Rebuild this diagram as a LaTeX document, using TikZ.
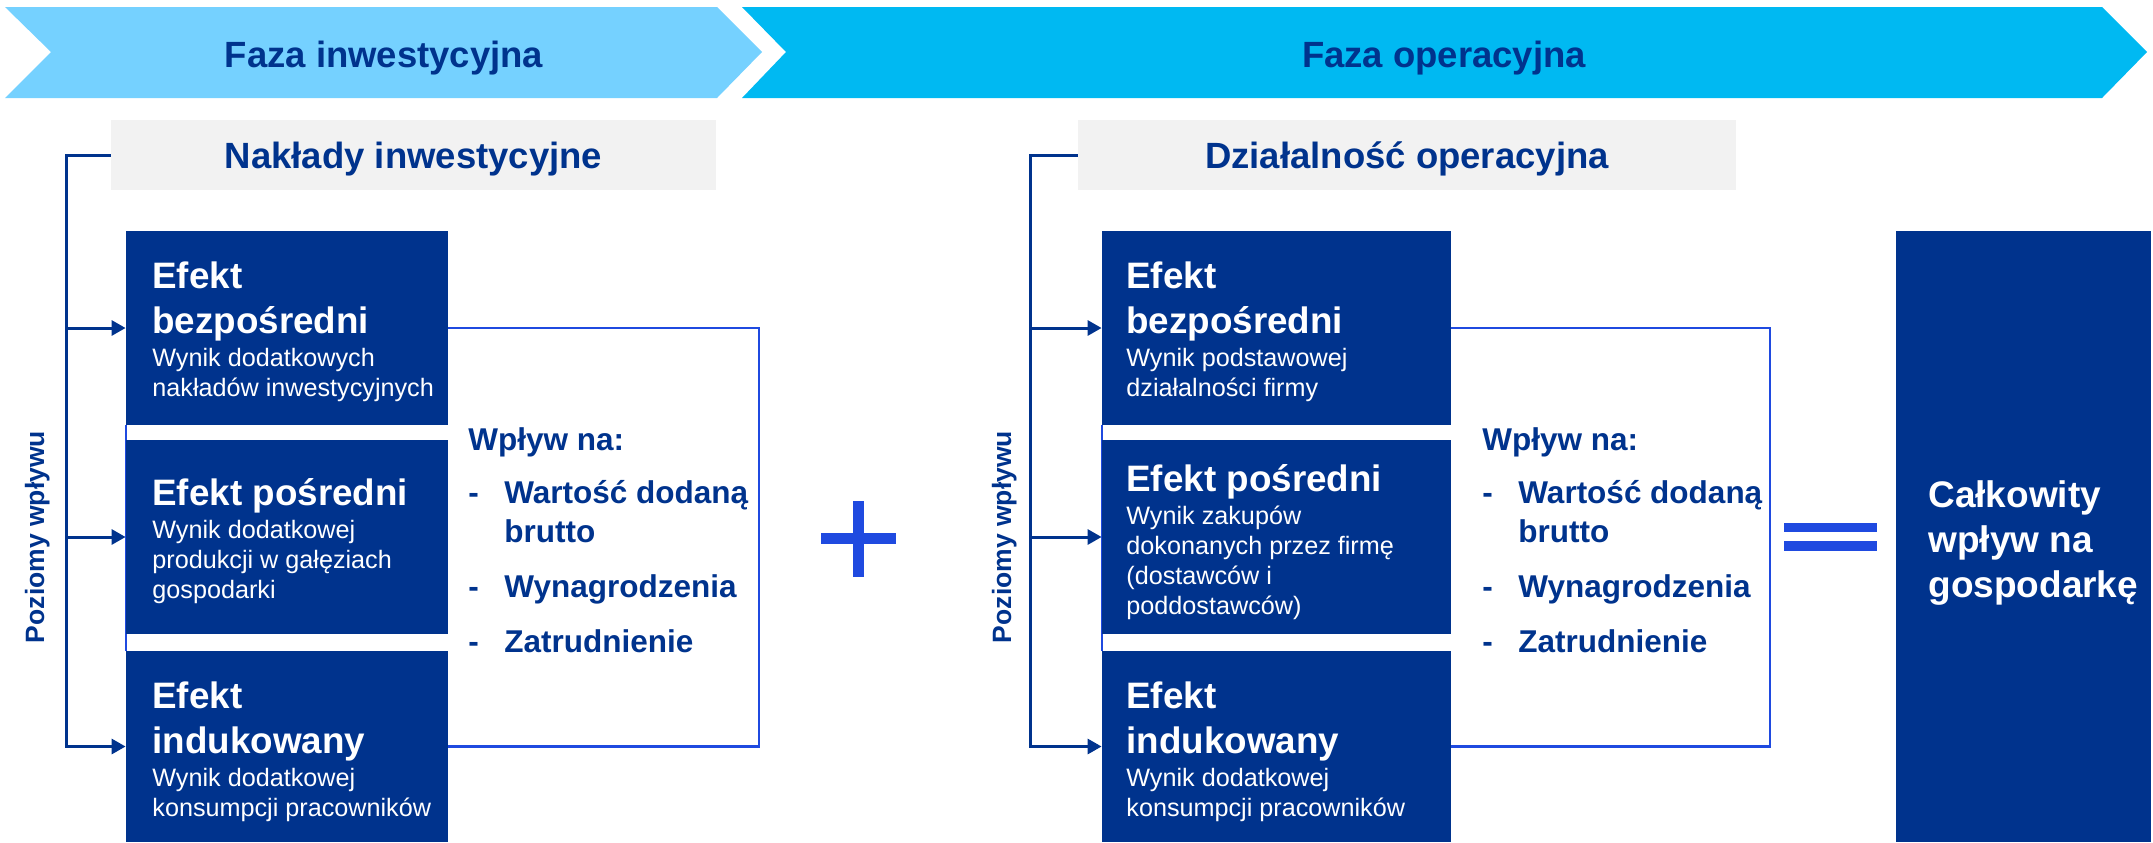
\documentclass[tikz,border=0pt]{standalone}
\usepackage{fontspec}
\setmainfont{Liberation Sans}
\usetikzlibrary{arrows.meta}

\definecolor{navy}{HTML}{00338D}
\definecolor{lightsky}{HTML}{75D1FF}
\definecolor{sky}{HTML}{00B9F2}
\definecolor{greybox}{HTML}{F2F2F2}
\definecolor{brightblue}{HTML}{1F4AE0}

\newcommand{\headfont}{\fontsize{18.25pt}{22pt}\selectfont\bfseries}
\newcommand{\efftitle}{\fontsize{18.4pt}{22.5pt}\selectfont\bfseries}
\newcommand{\effsub}{\fontsize{12.6pt}{15pt}\selectfont\mdseries}
\newcommand{\listfont}{\fontsize{15.75pt}{19.5pt}\selectfont\bfseries}
\newcommand{\efftext}[2]{\parbox[t]{200pt}{\raggedright\efftitle #1\par\vspace{1.5pt}\effsub #2\par}}
\newcommand{\wplyw}{\parbox[t]{170pt}{\raggedright\listfont Wpływ na:\\[7pt]
	\makebox[18pt][l]{-}Wartość dodaną\\
	\hspace*{18pt}brutto\\[8pt]
	\makebox[18pt][l]{-}Wynagrodzenia\\[8pt]
	\makebox[18pt][l]{-}Zatrudnienie}}

\begin{document}
\begin{tikzpicture}[x=0.5pt,y=-0.5pt,
	headtext/.style={anchor=base,inner sep=0,text=navy,font=\headfont},
	tagbox/.style={fill=greybox,minimum height=35pt,inner sep=0,text=navy,font=\headfont,text height=13pt,text depth=0pt},
	effbox/.style={fill=navy,inner sep=0},
	efflabel/.style={anchor=base west,inner sep=0,text=white},
	levellabel/.style={rotate=90,anchor=base,inner sep=0,text=navy,font=\fontsize{13.25pt}{16pt}\selectfont\bfseries},
	impactlist/.style={anchor=base west,inner sep=0,text=navy},
	lvline/.style={navy,line width=1.5pt},
	lvarrow/.style={lvline,-{Triangle[length=7pt,width=7.5pt]}},
	impactline/.style={brightblue,line width=1.4pt},
	gapline/.style={brightblue,line width=1pt}]
	\useasboundingbox (0,0) rectangle (2153,842);

	\fill[lightsky] (5,7) -- (717,7) -- (762,52) -- (717,98) -- (5,98) -- (51,52) -- cycle;
	\fill[sky] (742,7) -- (2102,7) -- (2147,52) -- (2102,98) -- (742,98) -- (786,52) -- cycle;
	\node[headtext] (fazainw) at (384,67) {Faza inwestycyjna};
	\node[headtext] (fazaop) at (1444,67) {Faza operacyjna};

	\node[tagbox,minimum width=302.5pt] (naklady) at (413.5,155) {Nakłady inwestycyjne};
	\node[tagbox,minimum width=329pt] (dzial) at (1407,155) {Działalność operacyjna};

	\draw[gapline] (126,425) -- (126,651);
	\draw[gapline] (1102,425) -- (1102,651);

	\node[effbox,minimum width=161pt,minimum height=97pt] (inv1) at (287,328) {};
	\node[effbox,minimum width=161pt,minimum height=97pt] (inv2) at (287,537) {};
	\node[effbox,minimum width=161pt,minimum height=95.5pt] (inv3) at (287,746.5) {};
	\node[effbox,minimum width=174.5pt,minimum height=97pt] (op1) at (1276.5,328) {};
	\node[effbox,minimum width=174.5pt,minimum height=97pt] (op2) at (1276.5,537) {};
	\node[effbox,minimum width=174.5pt,minimum height=95.5pt] (op3) at (1276.5,746.5) {};
	\node[effbox,minimum width=127.5pt,minimum height=305.5pt] (total) at (2023.5,536.5) {};

	\node[efflabel] (inv1txt) at (152,288) {\efftext{Efekt\\bezpośredni}{Wynik dodatkowych\\nakładów inwestycyjnych}};
	\node[efflabel] (inv2txt) at (152,505) {\efftext{Efekt pośredni}{Wynik dodatkowej\\produkcji w gałęziach\\gospodarki}};
	\node[efflabel] (inv3txt) at (152,708) {\efftext{Efekt\\indukowany}{Wynik dodatkowej\\konsumpcji pracowników}};
	\node[efflabel] (op1txt) at (1126,288) {\efftext{Efekt\\bezpośredni}{Wynik podstawowej\\działalności firmy}};
	\node[efflabel] (op2txt) at (1126,491) {\efftext{Efekt pośredni}{Wynik zakupów\\dokonanych przez firmę\\(dostawców i\\poddostawców)}};
	\node[efflabel] (op3txt) at (1126,708) {\efftext{Efekt\\indukowany}{Wynik dodatkowej\\konsumpcji pracowników}};
	\node[efflabel] (totaltxt) at (1928,507) {\parbox[t]{125pt}{\raggedright\fontsize{18.5pt}{22.5pt}\selectfont\bfseries Całkowity\\wpływ na\\gospodarkę}};

	\coordinate (ltrunk) at (66,746.5);
	\coordinate (rtrunk) at (1030,746.5);
	\draw[lvarrow] (naklady.west) -| (ltrunk) -- (inv3.west);
	\draw[lvarrow] (inv1.west -| ltrunk) -- (inv1.west);
	\draw[lvarrow] (inv2.west -| ltrunk) -- (inv2.west);
	\draw[lvarrow] (dzial.west) -| (rtrunk) -- (op3.west);
	\draw[lvarrow] (op1.west -| rtrunk) -- (op1.west);
	\draw[lvarrow] (op2.west -| rtrunk) -- (op2.west);
	\node[levellabel] (poz1) at (44,537) {Poziomy wpływu};
	\node[levellabel] (poz2) at (1011,537) {Poziomy wpływu};

	\coordinate (limp) at (759,0);
	\coordinate (rimp) at (1770,0);
	\draw[impactline] (inv1.east) -- (inv1.east -| limp) -- (inv3.east -| limp) -- (inv3.east);
	\draw[impactline] (op1.east) -- (op1.east -| rimp) -- (op3.east -| rimp) -- (op3.east);
	\node[impactlist] (wpl1) at (468,450) {\wplyw};
	\node[impactlist] (wpl2) at (1482,450) {\wplyw};

	\fill[brightblue] (821,533) rectangle (896,544);
	\fill[brightblue] (853,501) rectangle (864,577);
	\fill[brightblue] (1784,523) rectangle (1877,532);
	\fill[brightblue] (1784,541) rectangle (1877,551);
\end{tikzpicture}
\end{document}
